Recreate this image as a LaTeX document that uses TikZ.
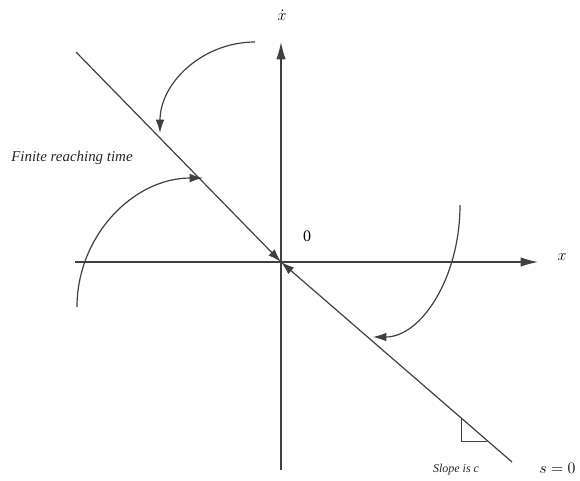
\documentclass[tikz,border=0pt]{standalone}
\usepackage{fontspec}
\setmainfont{Liberation Serif}
\usetikzlibrary{arrows.meta}
\begin{document}
\begin{tikzpicture}[x=0.75pt,y=-0.75pt,
  ln/.style={draw=black!75,line width=0.9pt},
  axarrow/.style={ln,-{Latex[length=13pt,width=7pt]}},
  arcarrow/.style={ln,-{Latex[length=10pt,width=6.5pt]}},
  lbl/.style={inner sep=0pt}]
\useasboundingbox (0,0) rectangle (580,480);
% coordinates
\coordinate (O) at (281,262);
\coordinate (xl) at (75,262);
\coordinate (xr) at (538,262);
\coordinate (yb) at (281,470);
\coordinate (yt) at (281,42);
\coordinate (st) at (76,52);
\coordinate (sb) at (512,462);
\coordinate (a1s) at (255,42);
\coordinate (a1e) at (160,133);
\coordinate (a2s) at (77,307);
\coordinate (a2e) at (203,178);
\coordinate (a3s) at (460,205);
\coordinate (a3e) at (373,337);
\coordinate (t1) at (461,418.5);
\coordinate (t2) at (461,441);
\coordinate (t3) at (487,441);
% axes
\draw[axarrow] (xl) -- (xr);
\draw[axarrow] (yb) -- (yt);
% sliding line
\draw[arcarrow] (st) -- (O);
\draw[arcarrow] (sb) -- (O);
% arcs
\draw[arcarrow] (a1s) .. controls (202.6,42) and (160,82.8) .. (a1e);
\draw[arcarrow] (a2s) .. controls (77,235.8) and (133.4,178) .. (a2e);
\draw[arcarrow] (a3s) .. controls (460,277.9) and (421,337) .. (a3e);
% slope triangle
\draw[ln,line width=0.7pt] (t1) -- (t2) -- (t3);
% labels
\node[lbl] (lx) at (562,257) {\large$x$};
\node[lbl] (ly) at (282,15) {\large$\dot{x}$};
\node[lbl] (l0) at (307,236) {\large 0};
\node[lbl,anchor=west] (lfr) at (11,158) {\fontsize{11.2}{13}\selectfont\itshape\color{black!85} Finite reaching time};
\node[lbl] (lsl) at (456,470) {\fontsize{9}{11}\selectfont\itshape\color{black!85} Slope is c};
\node[lbl,anchor=west] (ls0) at (539,468) {\fontsize{13}{15}\selectfont$s=0$};
\end{tikzpicture}
\end{document}
